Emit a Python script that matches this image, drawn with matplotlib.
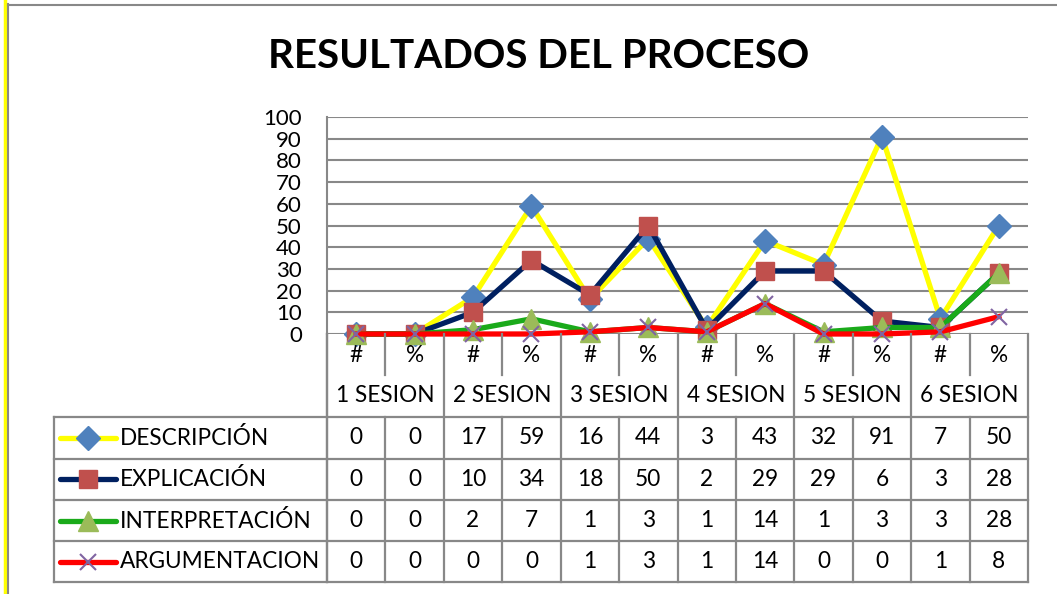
import matplotlib
matplotlib.use('Agg')
import matplotlib.pyplot as plt
from matplotlib.lines import Line2D

plt.rcParams['font.family'] = ['Lato', 'DejaVu Sans']

W, H = 1057, 594

titulo = 'RESULTADOS DEL PROCESO'
sesiones = ['1 SESION', '2 SESION', '3 SESION', '4 SESION', '5 SESION', '6 SESION']
marcas = ['#', '%'] * 6
nombres = ['DESCRIPCIÓN', 'EXPLICACIÓN', 'INTERPRETACIÓN', 'ARGUMENTACION']
descripcion = [0, 0, 17, 59, 16, 44, 3, 43, 32, 91, 7, 50]
explicacion = [0, 0, 10, 34, 18, 50, 2, 29, 29, 6, 3, 28]
interpretacion = [0, 0, 2, 7, 1, 3, 1, 14, 1, 3, 3, 28]
argumentacion = [0, 0, 0, 0, 1, 3, 1, 14, 0, 0, 1, 8]
series = [descripcion, explicacion, interpretacion, argumentacion]

estilos = [
    dict(color='#FFFF00', marker='D', mfc='#4F81BD', mec='#4F81BD', ms=12),
    dict(color='#002060', marker='s', mfc='#C0504D', mec='#C0504D', ms=13),
    dict(color='#1AAA1A', marker='^', mfc='#9BBB59', mec='#9BBB59', ms=15),
    dict(color='#FF0000', marker='x', mfc='#8064A2', mec='#8064A2', ms=12, mew=1.5),
]

GRIS = '#888888'


def fx(px):
    return px / W


def fy(py):
    return 1 - py / H


fig = plt.figure(figsize=(W / 100, H / 100), dpi=100)

# marco de la imagen
fig.add_artist(Line2D([fx(4.5), fx(4.5)], [0, 1], color='#FFFF00', lw=2.5, transform=fig.transFigure))
fig.add_artist(Line2D([fx(8), fx(8)], [0, fy(4)], color=GRIS, lw=1.5, transform=fig.transFigure))
fig.add_artist(Line2D([fx(8), 1], [fy(4.5), fy(4.5)], color=GRIS, lw=1.5, transform=fig.transFigure))

fig.text(fx(539), fy(57), titulo, ha='center', va='center', fontsize=29, fontweight='bold')

# ---------------- grafico ----------------
x0, x1, ytop, y0 = 327, 1028, 117, 334
ax = fig.add_axes([fx(x0), fy(y0), (x1 - x0) / W, (y0 - ytop) / H])
n = len(descripcion)
xs = list(range(n))
ax.set_xlim(-0.5, n - 0.5)
ax.set_ylim(0, 100)
ax.set_yticks(range(0, 101, 10))
ax.set_xticks([])
ax.tick_params(axis='y', length=0, pad=18, labelsize=16)
ax.grid(axis='y', color=GRIS, lw=1.5)
ax.set_axisbelow(True)
for s in ['top', 'right', 'bottom']:
    ax.spines[s].set_visible(False)
ax.spines['left'].set_color(GRIS)
ax.spines['left'].set_linewidth(1.5)

for vals, est in zip(series, estilos):
    ax.plot(xs, vals, lw=3.8, clip_on=False, zorder=3, **est)

# ---------------- tabla ----------------
ybot = 582
tb = fig.add_axes([fx(x0), fy(ybot), (x1 - x0) / W, (ybot - y0) / H])
tb.set_xlim(-0.5, n - 0.5)
tb.set_ylim(ybot - y0, 0)
tb.axis('off')
pxu = (x1 - x0) / n
xleft = -0.5 - (x0 - 54) / pxu
filas = [83, 124.5, 166, 207, 248]

kw = dict(color=GRIS, lw=1.6, clip_on=False)
for yy in filas:
    tb.plot([xleft, n - 0.5], [yy, yy], **kw)
tb.plot([xleft, xleft], [filas[0], filas[-1]], **kw)
tb.plot([-0.5, -0.5], [0, filas[-1]], **kw)
for k in range(n // 2 + 1):
    tb.plot([2 * k - 0.5] * 2, [0, filas[-1]], **kw)
for k in range(n // 2):
    tb.plot([2 * k + 0.5] * 2, [0, 41], **kw)
    tb.plot([2 * k + 0.5] * 2, [filas[0], filas[-1]], **kw)

fs = 16.3
for i, m in enumerate(marcas):
    tb.text(i, 21, m, ha='center', va='center', fontsize=fs)
for k, s in enumerate(sesiones):
    tb.text(2 * k + 0.5, 62, s, ha='center', va='center', fontsize=fs)

for r, (nom, vals, est) in enumerate(zip(nombres, series, estilos)):
    yc = (filas[r] + filas[r + 1]) / 2
    kx0 = xleft + (60 - 54) / pxu
    kx1 = xleft + (116 - 54) / pxu
    tb.plot([kx0, kx1], [yc, yc], color=est['color'], lw=3.8, solid_capstyle='round', clip_on=False)
    e = {k: v for k, v in est.items() if k != 'color'}
    e['ls'] = 'none'
    tb.plot([(kx0 + kx1) / 2], [yc], clip_on=False, **e)
    tb.text(xleft + (120 - 54) / pxu, yc, nom, ha='left', va='center', fontsize=fs)
    for i, v in enumerate(vals):
        tb.text(i, yc, str(v), ha='center', va='center', fontsize=fs)

fig.savefig('out.png', dpi=100)
